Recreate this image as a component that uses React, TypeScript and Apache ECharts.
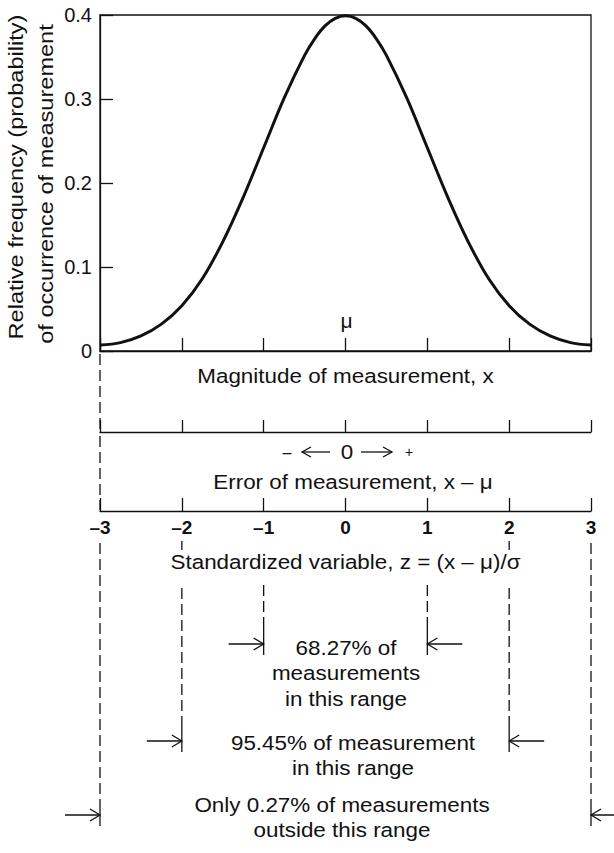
import React, { useEffect, useRef } from "react";
import * as echarts from "echarts";

// ---- data ----
const zGrid = [-3, -2.75, -2.5, -2.25, -2, -1.75, -1.5, -1.25, -1, -0.75, -0.5, -0.375, -0.25, -0.125, 0,
  0.125, 0.25, 0.375, 0.5, 0.75, 1, 1.25, 1.5, 1.75, 2, 2.25, 2.5, 2.75, 3];
const density = [0.007, 0.010, 0.018, 0.032, 0.054, 0.086, 0.130, 0.183, 0.242, 0.301, 0.352, 0.372, 0.387, 0.396, 0.399,
  0.396, 0.387, 0.372, 0.352, 0.301, 0.242, 0.183, 0.130, 0.086, 0.054, 0.032, 0.018, 0.010, 0.007];
const zTicks = [-3, -2, -1, 0, 1, 2, 3];
const zTickLabels = ["\u20133", "\u20132", "\u20131", "0", "1", "2", "3"];
const yTicks = [0, 0.1, 0.2, 0.3, 0.4];
const yTickLabels = ["0", "0.1", "0.2", "0.3", "0.4"];
const yTitleLines = ["Relative frequency (probability)", "of occurrence of measurement"];
const meanLabel = "\u03bc";
const axisTitles = [
  "Magnitude of measurement, x",
  "Error of measurement, x \u2013 \u03bc",
  "Standardized variable, z = (x \u2013 \u03bc)/\u03c3",
];
const sigmaMultiples = [1, 2, 3];
const rangeTexts = [
  ["68.27% of", "measurements", "in this range"],
  ["95.45% of measurement", "in this range"],
  ["Only 0.27% of measurements", "outside this range"],
];

// ---- layout ----
const FONT = '"Liberation Sans", Arial, Helvetica, sans-serif';
const INK = "#111";
const SX = 1.15;
const GL = 100;
const GW = 491;
const GT = 15;
const GH = 336;
const AX2 = 432;
const AX3 = 511;

// per sigma multiple: arrow row y, dashed start, text rows centre x / first y
const arrowY = [644, 741, 815];
const dashStart = [585, 588, 543];
const textCx = [346, 353, 342];
const textY0 = [648, 743, 805];
const LINE_H = 25.5;

function txt(text: string, x: number, y: number, size: number, extra: any = {}) {
  return {
    type: "text",
    x,
    y,
    scaleX: extra.noScale ? 1 : SX,
    rotation: extra.rotation || 0,
    silent: true,
    z: 10,
    style: {
      text,
      fill: INK,
      fontSize: size,
      fontFamily: FONT,
      fontWeight: extra.weight || "normal",
      font: `${extra.weight || "normal"} ${size}px ${FONT}`,
      textAlign: "center",
      textVerticalAlign: "middle",
      align: "center",
      verticalAlign: "middle",
    },
  };
}

function poly(points: number[][], w = 1.3) {
  return {
    type: "polyline",
    silent: true,
    shape: { points },
    style: { stroke: INK, lineWidth: w, fill: null },
  };
}

export default function App() {
  const ref = useRef<HTMLDivElement>(null);

  useEffect(() => {
    if (!ref.current) return;
    const chart = echarts.init(ref.current, undefined, { renderer: "svg" });

    const axisLineStyle = { color: INK, width: 1.3 };
    const cx = GL + GW / 2;

    const graphic: any[] = [];
    // y-axis title (rotated)
    graphic.push(txt(yTitleLines[0], 16, 177, 20.5, { rotation: Math.PI / 2 }));
    graphic.push(txt(yTitleLines[1], 46, 184, 20.5, { rotation: Math.PI / 2 }));
    // mu
    graphic.push(txt(meanLabel, cx + 1, 320, 21, { noScale: true }));
    // axis titles
    graphic.push(txt(axisTitles[0], cx, 376, 19.5));
    graphic.push(txt(axisTitles[1], 353, 482, 19.5));
    graphic.push(txt(axisTitles[2], cx, 562, 19.5));
    // "- <-- 0 --> +"
    graphic.push(txt("\u2013", 287, 452, 16, { noScale: true }));
    graphic.push(poly([[302, 452], [330, 452]]));
    graphic.push(poly([[311, 447], [302, 452], [311, 457]]));
    graphic.push(txt("0", 347, 452, 19.5));
    graphic.push(poly([[361, 452], [392, 452]]));
    graphic.push(poly([[383, 447], [392, 452], [383, 457]]));
    graphic.push(txt("+", 409, 452, 14, { noScale: true }));
    // range texts
    rangeTexts.forEach((lines, i) => {
      lines.forEach((line, j) => {
        graphic.push(txt(line, textCx[i], textY0[i] + j * LINE_H, 19.5));
      });
    });

    const boundData: number[][] = [];
    sigmaMultiples.forEach((k) => {
      boundData.push([-k, k]);
      boundData.push([k, k]);
    });

    const option: any = {
      animation: false,
      grid: [
        { left: GL, top: GT, width: GW, height: GH, show: true, borderColor: INK, borderWidth: 1.3, backgroundColor: "transparent" },
        { left: GL, top: AX2 - 12, width: GW, height: 12, show: false },
        { left: GL, top: AX3 - 13, width: GW, height: 13, show: false },
      ],
      xAxis: [
        {
          type: "value", gridIndex: 0, min: -3, max: 3, interval: 1,
          axisLine: { onZero: false, lineStyle: axisLineStyle },
          axisTick: { inside: true, length: 13, lineStyle: axisLineStyle },
          axisLabel: { show: false },
          splitLine: { show: false },
        },
        {
          type: "value", gridIndex: 1, min: -3, max: 3, interval: 1,
          axisLine: { onZero: false, lineStyle: axisLineStyle },
          axisTick: { inside: true, length: 12, lineStyle: axisLineStyle },
          axisLabel: { show: false },
          splitLine: { show: false },
        },
        {
          type: "value", gridIndex: 2, min: -3, max: 3, interval: 1,
          axisLine: { onZero: false, lineStyle: axisLineStyle },
          axisTick: { inside: true, length: 13, lineStyle: axisLineStyle },
          axisLabel: {
            show: true, margin: 7, fontSize: 19, fontWeight: "bold", color: INK, fontFamily: FONT,
            formatter: (v: number) => {
              const i = zTicks.indexOf(v);
              return i >= 0 ? zTickLabels[i] : "";
            },
          },
          splitLine: { show: false },
        },
      ],
      yAxis: [
        {
          type: "value", gridIndex: 0, min: 0, max: 0.4, interval: 0.1,
          axisLine: { onZero: false, lineStyle: axisLineStyle },
          axisTick: { inside: true, length: 13, lineStyle: axisLineStyle },
          axisLabel: {
            margin: 8, fontSize: 20, color: INK, fontFamily: FONT,
            formatter: (v: number) => {
              const i = yTicks.findIndex((t) => Math.abs(t - v) < 1e-9);
              return i >= 0 ? yTickLabels[i] : "";
            },
          },
          splitLine: { show: false },
        },
        { type: "value", gridIndex: 1, min: 0, max: 1, show: false },
        { type: "value", gridIndex: 2, min: 0, max: 1, show: false },
      ],
      series: [
        {
          type: "line",
          xAxisIndex: 0,
          yAxisIndex: 0,
          data: zGrid.map((z, i) => [z, density[i]]),
          smooth: 0.35,
          showSymbol: false,
          symbol: "none",
          lineStyle: { color: INK, width: 3 },
          silent: true,
        },
        {
          type: "custom",
          coordinateSystem: "cartesian2d",
          xAxisIndex: 2,
          yAxisIndex: 2,
          clip: false,
          silent: true,
          data: boundData,
          renderItem: (params: any, api: any) => {
            const z = api.value(0);
            const k = api.value(1);
            const idx = sigmaMultiples.indexOf(k);
            const x = api.coord([z, 0])[0];
            const ay = arrowY[idx];
            const solidTop = ay - 16;
            const solidBot = ay + 11;
            const dashStyle = { stroke: INK, lineWidth: 1.3, lineDash: [11, 5] };
            const solidStyle = { stroke: INK, lineWidth: 1.3 };
            const children: any[] = [];
            const seg = (y1: number, y2: number, style: any) =>
              children.push({ type: "line", shape: { x1: x, y1, x2: x, y2 }, style });
            if (k === 3 && z < 0) {
              seg(GT + GH + 3, AX2 - 1, dashStyle);
              seg(AX2 + 4, AX3 - 1, dashStyle);
            }
            if (k === 2) {
              seg(541, 550, solidStyle);
            }
            seg(dashStart[idx], solidTop, dashStyle);
            seg(solidTop, solidBot, solidStyle);
            const dir = z < 0 ? -1 : 1; // arrow comes from outside
            const len = 35;
            children.push({
              type: "polyline",
              shape: { points: [[x + dir * len, ay], [x, ay]] },
              style: { stroke: INK, lineWidth: 1.3, fill: null },
            });
            children.push({
              type: "polyline",
              shape: { points: [[x + dir * 10, ay - 6], [x, ay], [x + dir * 10, ay + 6]] },
              style: { stroke: INK, lineWidth: 1.3, fill: null },
            });
            return { type: "group", children };
          },
        },
      ],
      graphic,
    };

    chart.setOption(option);
    return () => chart.dispose();
  }, []);

  return (
    <div
      ref={ref}
      style={{ position: "absolute", left: 0, top: 0, width: 614, height: 853, background: "#fff" }}
    />
  );
}
